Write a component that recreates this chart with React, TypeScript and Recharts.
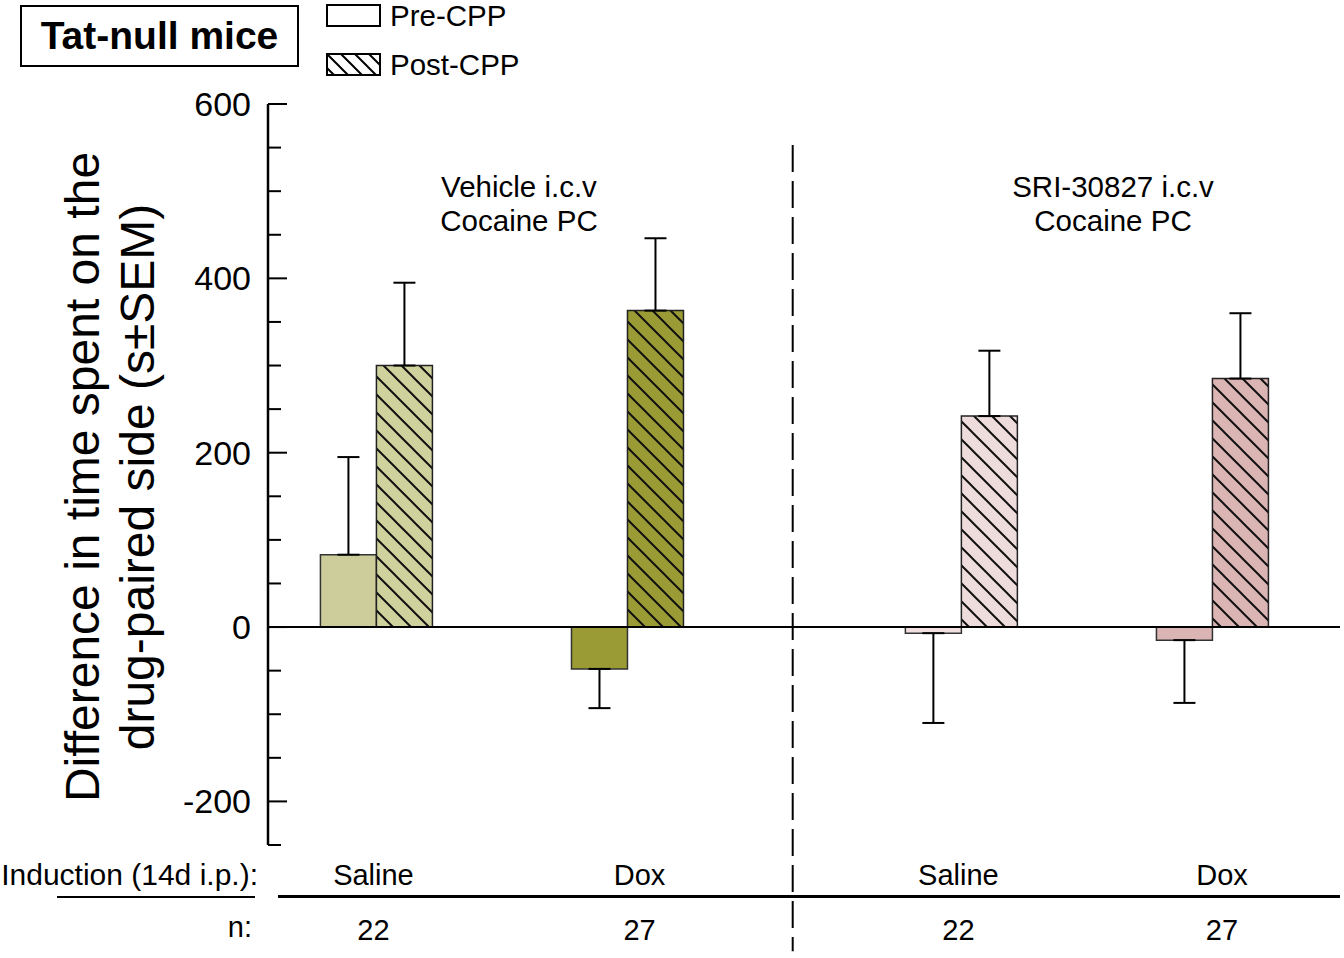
import React from 'react';
import {
    ComposedChart,
    Bar,
    Cell,
    XAxis,
    YAxis,
    ReferenceLine,
    ErrorBar,
} from 'recharts';

// groups along the x axis (slot units; the gap between 2 and 3.33 holds the divider)
const inductions = ['Saline', 'Dox', 'Saline', 'Dox'];
const groupPos = [1, 2, 3.33, 4.33];
const labelPos = [0.99, 2.05, 3.32, 4.37];
const nCounts = [22, 27, 22, 27];
const dividerPos = 2.66;

const preValues = [83, -48, -7, -15];
const preErrors = [112, 45, 103, 72];
const postValues = [300, 363, 242, 285];
const postErrors = [95, 83, 75, 75];

const preColors = ['#cdcd9b', '#9a9b34', '#f2e0e0', '#dbb4b4'];
const postColors = ['#d0d29e', '#9a9b34', '#eedcdc', '#dbb4b4'];

const yTicks = [-250, -200, -150, -100, -50, 0, 50, 100, 150, 200, 250, 300, 350, 400, 450, 500, 550, 600];

const FONT = '"Liberation Sans", Arial, sans-serif';

// error bars only extend away from zero
const errRange = (v: number, e: number) => (v < 0 ? [e, 0] : [0, e]);

const data = groupPos.map((x, i) => ({
    x,
    pre: preValues[i],
    preErr: errRange(preValues[i], preErrors[i]),
    post: postValues[i],
    postErr: errRange(postValues[i], postErrors[i]),
}));

const YTick = (props: any) => {
    const { x, y, payload } = props;
    const major = payload.value % 200 === 0;
    return (
        <g>
            <line x1={x} x2={x + (major ? 19 : 13)} y1={y} y2={y} stroke="#000" strokeWidth={2} />
            {major && (
                <text x={x - 17} y={y + 12} textAnchor="end" fontSize={34} fontFamily={FONT} fill="#000">
                    {payload.value}
                </text>
            )}
        </g>
    );
};

const XTick = (props: any) => {
    const { x, y, index } = props;
    return (
        <g>
            <text x={x} y={y + 40} textAnchor="middle" fontSize={29} fontFamily={FONT} fill="#000">
                {inductions[index]}
            </text>
            <text x={x} y={y + 95} textAnchor="middle" fontSize={29} fontFamily={FONT} fill="#000">
                {nCounts[index]}
            </text>
        </g>
    );
};

const Swatch = ({ hatched }: { hatched: boolean }) => (
    <svg width={56} height={24} style={{ display: 'block' }}>
        <rect x={1} y={1} width={53} height={21} fill={hatched ? 'url(#legendHatch)' : '#fff'} stroke="#000" strokeWidth={2} />
    </svg>
);

export default function App() {
    return (
        <div style={{ position: 'absolute', left: 0, top: 0, width: 1344, height: 958, background: '#fff', fontFamily: FONT }}>
            <svg width={0} height={0} style={{ position: 'absolute' }}>
                <defs>
                    <pattern id="legendHatch" patternUnits="userSpaceOnUse" width={14} height={14}>
                        <rect width={14} height={14} fill="#fff" />
                        <path d="M-3.5,10.5 L3.5,17.5 M0,0 L14,14 M10.5,-3.5 L17.5,3.5" stroke="#000" strokeWidth={2} />
                    </pattern>
                </defs>
            </svg>

            <ComposedChart
                width={1344}
                height={958}
                data={data}
                margin={{ top: 104, right: 4, bottom: 13, left: 208 }}
                barGap={0}
            >
                <defs>
                    {postColors.map((c, i) => (
                        <pattern key={i} id={`hatch${i}`} patternUnits="userSpaceOnUse" width={18} height={18}>
                            <rect width={18} height={18} fill={c} />
                            <path d="M-4.5,13.5 L4.5,22.5 M0,0 L18,18 M13.5,-4.5 L22.5,4.5" stroke="#111" strokeWidth={2} />
                        </pattern>
                    ))}
                </defs>
                <XAxis
                    dataKey="x"
                    type="number"
                    domain={[0.57, 4.84]}
                    ticks={labelPos}
                    axisLine={false}
                    tickLine={false}
                    tickSize={0}
                    tickMargin={0}
                    height={100}
                    tick={<XTick />}
                    interval={0}
                />
                <YAxis
                    type="number"
                    domain={[-250, 600]}
                    ticks={yTicks}
                    width={60}
                    axisLine={{ stroke: '#000', strokeWidth: 2.5 }}
                    tickLine={false}
                    tickSize={0}
                    tickMargin={0}
                    tick={<YTick />}
                    interval={0}
                />
                <ReferenceLine y={0} stroke="#000" strokeWidth={2} />
                <ReferenceLine
                    segment={[{ x: dividerPos, y: 553 }, { x: dividerPos, y: -372 }]}
                    stroke="#000"
                    strokeWidth={2}
                    strokeDasharray="27 9"
                    ifOverflow="visible"
                />
                <Bar dataKey="pre" barSize={56} stroke="#333" strokeWidth={1.5} isAnimationActive={false}>
                    {preColors.map((c, i) => (
                        <Cell key={i} fill={c} />
                    ))}
                    <ErrorBar dataKey="preErr" width={11} stroke="#000" strokeWidth={2} direction="y" />
                </Bar>
                <Bar dataKey="post" barSize={56} stroke="#222" strokeWidth={1.5} isAnimationActive={false}>
                    {postColors.map((_, i) => (
                        <Cell key={i} fill={`url(#hatch${i})`} />
                    ))}
                    <ErrorBar dataKey="postErr" width={11} stroke="#000" strokeWidth={2} direction="y" />
                </Bar>
            </ComposedChart>

            {/* title box */}
            <div
                style={{
                    position: 'absolute', left: 20, top: 5, width: 275, height: 58,
                    border: '2px solid #000', display: 'flex', alignItems: 'center', justifyContent: 'center',
                    fontWeight: 'bold', fontSize: 39,
                }}
            >
                Tat-null mice
            </div>

            {/* legend */}
            <div style={{ position: 'absolute', left: 326, top: 4, fontSize: 29.5, lineHeight: '24px' }}>
                <div style={{ display: 'flex', alignItems: 'center', gap: 8 }}>
                    <Swatch hatched={false} />
                    <span>Pre-CPP</span>
                </div>
                <div style={{ display: 'flex', alignItems: 'center', gap: 8, marginTop: 25 }}>
                    <Swatch hatched={true} />
                    <span>Post-CPP</span>
                </div>
            </div>

            {/* y axis title */}
            <div
                style={{
                    position: 'absolute', left: 110, top: 477, transform: 'translate(-50%, -50%) rotate(-90deg)',
                    whiteSpace: 'nowrap', textAlign: 'center', fontSize: 48, lineHeight: '55px',
                }}
            >
                Difference in time spent on the
                <br />
                drug-paired side (s±SEM)
            </div>

            {/* treatment labels */}
            <div style={{ position: 'absolute', left: 519, top: 170, transform: 'translateX(-50%)', textAlign: 'center', fontSize: 29.5, lineHeight: '34px', whiteSpace: 'nowrap' }}>
                Vehicle i.c.v
                <br />
                Cocaine PC
            </div>
            <div style={{ position: 'absolute', left: 1113, top: 170, transform: 'translateX(-50%)', textAlign: 'center', fontSize: 29.5, lineHeight: '34px', whiteSpace: 'nowrap' }}>
                SRI-30827 i.c.v
                <br />
                Cocaine PC
            </div>

            {/* table row headers and rules */}
            <div style={{ position: 'absolute', right: 1344 - 258, top: 858, fontSize: 30, whiteSpace: 'nowrap' }}>
                Induction (14d i.p.):
            </div>
            <div style={{ position: 'absolute', right: 1344 - 252, top: 911, fontSize: 29 }}>n:</div>
            <div style={{ position: 'absolute', left: 57, top: 896, width: 198, height: 2, background: '#000' }} />
            <div style={{ position: 'absolute', left: 278, top: 895, width: 1062, height: 3, background: '#000' }} />
        </div>
    );
}
